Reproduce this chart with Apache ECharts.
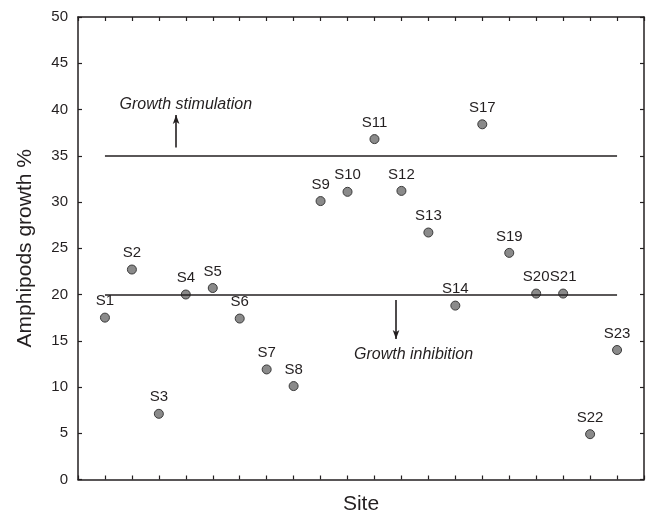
<!DOCTYPE html>
<html>
<head>
<meta charset="utf-8">
<script src="https://cdn.jsdelivr.net/npm/echarts@6/dist/echarts.min.js"></script>
<style>
  html, body { margin: 0; padding: 0; background: #fff; }
  #chart { width: 650px; height: 514px; }
</style>
</head>
<body>
<div id="chart"></div>
<script>
// Sampling sites and their amphipod growth (%)
const sites = ['S1','S2','S3','S4','S5','S6','S7','S8','S9','S10','S11','S12','S13','S14','S17','S19','S20','S21','S22','S23'];
const growth = [17.5, 22.7, 7.1, 20.0, 20.7, 17.4, 11.9, 10.1, 30.1, 31.1, 36.8, 31.2, 26.7, 18.8, 38.4, 24.5, 20.1, 20.1, 4.9, 14.0];

// Threshold levels separating stimulation / inhibition
const stimulationLevel = 35;
const inhibitionLevel = 20;
const yTicks = [0, 5, 10, 15, 20, 25, 30, 35, 40, 45, 50];

const font = 'Liberation Sans, Arial, sans-serif';
const ink = '#231f20';

const points = sites.map((s, i) => [i + 1, growth[i], s]);
const lastPos = sites.length;

const chart = echarts.init(document.getElementById('chart'), null, { renderer: 'canvas' });

const axisCommon = {
  axisLine: { show: true, onZero: false, lineStyle: { color: ink, width: 1.5 } },
  axisTick: { show: true, inside: true, length: 4, lineStyle: { color: ink, width: 1.2 } },
  splitLine: { show: false }
};

chart.setOption({
  animation: false,
  backgroundColor: '#fff',
  grid: { left: 78, right: 6, top: 17, bottom: 34.5, containLabel: false, outerBoundsMode: 'none' },
  xAxis: [
    Object.assign({}, axisCommon, {
      type: 'value', min: 0, max: lastPos + 1, interval: 1, position: 'bottom',
      axisLabel: { show: false },
      name: 'Site', nameLocation: 'middle', nameGap: 14,
      nameTextStyle: { fontFamily: font, fontSize: 21, color: ink }
    }),
    Object.assign({}, axisCommon, {
      type: 'value', min: 0, max: lastPos + 1, interval: 1, position: 'top',
      axisLabel: { show: false }
    })
  ],
  yAxis: [
    Object.assign({}, axisCommon, {
      type: 'value', min: yTicks[0], max: yTicks[yTicks.length - 1], interval: 5, position: 'left',
      axisLabel: { fontFamily: font, fontSize: 15, color: ink, margin: 10 },
      name: 'Amphipods growth %', nameLocation: 'middle', nameGap: 42,
      nameTextStyle: { fontFamily: font, fontSize: 21, color: ink }
    }),
    Object.assign({}, axisCommon, {
      type: 'value', min: yTicks[0], max: yTicks[yTicks.length - 1], interval: 5, position: 'right',
      axisLabel: { show: false }
    })
  ],
  series: [
    {
      type: 'scatter',
      data: points,
      symbol: 'circle',
      symbolSize: 9,
      itemStyle: { color: '#8a8a8a', borderColor: '#3a3a3a', borderWidth: 1, opacity: 1 },
      label: {
        show: true, position: 'top', distance: 4,
        formatter: p => p.data[2],
        fontFamily: font, fontSize: 15, color: ink
      },
      markLine: {
        silent: true,
        symbol: ['none', 'none'],
        lineStyle: { color: ink, width: 1.6, type: 'solid' },
        label: { show: false },
        data: [
          [{ coord: [1, stimulationLevel] }, { coord: [lastPos, stimulationLevel] }],
          [{ coord: [1, inhibitionLevel] }, { coord: [lastPos, inhibitionLevel] }],
          // direction arrows
          [{ coord: [3.64, 35.9], symbol: 'none' }, { coord: [3.64, 39.4], symbol: 'arrow', symbolSize: [5, 9] }],
          [{ coord: [11.8, 19.4], symbol: 'none' }, { coord: [11.8, 15.2], symbol: 'arrow', symbolSize: [5, 9] }]
        ]
      },
      markPoint: {
        silent: true,
        symbol: 'circle',
        symbolSize: 0,
        label: {
          show: true, position: 'inside',
          fontFamily: font, fontSize: 16, fontStyle: 'italic', color: ink
        },
        data: [
          { coord: [4.0, 40.5], value: 'Growth stimulation', label: { formatter: 'Growth stimulation' } },
          { coord: [12.45, 13.5], value: 'Growth inhibition', label: { formatter: 'Growth inhibition' } }
        ]
      }
    }
  ]
});
</script>
</body>
</html>
